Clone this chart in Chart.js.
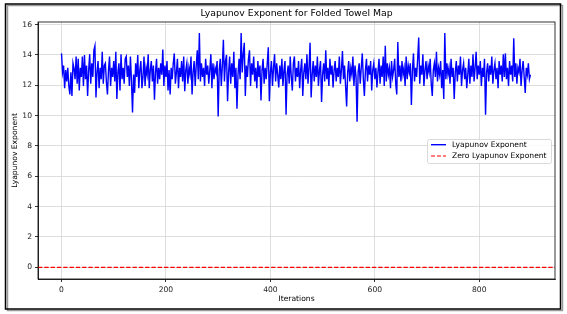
<!DOCTYPE html>
<html>
<head>
<meta charset="utf-8">
<script src="https://cdn.jsdelivr.net/npm/chart.js@4.4.0/dist/chart.umd.min.js"></script>
<style>
  html, body { margin: 0; padding: 0; background: #fff; }
  #wrap { width: 567px; height: 314px; position: relative; }
</style>
</head>
<body>
<div id="wrap"><canvas id="chart"></canvas></div>
<script>
const iterStep = 2;
const lyapunov = [
  14.1, 12.85, 13.3, 11.8, 13.0, 12.25, 13.15, 11.95, 11.4, 12.85, 11.3, 13.45, 13.1, 12.4, 13.9, 12.1, 13.75, 11.65, 13.15, 12.55, 13.9, 11.95, 14.0, 12.4, 13.3,
  11.3, 13.0, 14.05, 12.1, 13.45, 12.55, 14.3, 14.6, 11.2, 12.85, 13.6, 11.8, 13.15, 12.4, 14.2, 12.1, 13.3, 13.45, 12.2, 11.4, 13.0, 13.9, 11.95, 13.15, 12.55,
  13.6, 12.25, 14.2, 11.1, 12.85, 13.45, 11.65, 14.05, 12.4, 13.15, 12.1, 13.75, 13.9, 12.55, 13.3, 11.95, 13.9, 12.25, 10.2, 12.7, 11.5, 13.45, 12.55, 14.0, 11.8,
  13.0, 13.6, 11.8, 12.55, 13.9, 11.95, 13.15, 12.7, 14.05, 11.8, 13.0, 13.6, 12.25, 13.3, 11.05, 12.85, 13.75, 12.1, 13.15, 12.4, 13.45, 12.7, 14.35, 11.95, 13.3,
  12.55, 13.6, 11.65, 13.0, 11.4, 13.15, 12.4, 13.45, 14.1, 12.1, 12.85, 13.75, 11.8, 13.15, 12.55, 13.6, 12.25, 13.9, 11.6, 13.0, 13.45, 12.1, 13.15, 12.7, 13.9,
  11.4, 12.85, 13.6, 11.95, 13.3, 14.3, 12.4, 15.45, 12.25, 13.45, 12.55, 13.15, 11.95, 13.75, 12.7, 13.3, 12.1, 13.0, 14.05, 11.8, 13.45, 12.4, 13.15, 12.85, 13.6,
  9.95, 13.0, 13.75, 11.95, 13.3, 15.0, 12.25, 13.6, 14.0, 10.95, 12.85, 13.9, 12.1, 13.45, 12.55, 14.2, 11.8, 13.15, 10.45, 12.7, 13.75, 12.4, 15.45, 12.85, 14.05,
  14.8, 11.3, 13.3, 12.55, 13.75, 14.3, 11.95, 13.45, 12.7, 13.9, 12.25, 13.15, 11.8, 13.6, 12.55, 13.3, 11.0, 13.0, 13.75, 12.1, 13.15, 12.4, 13.45, 14.5, 10.95,
  12.85, 13.6, 11.95, 13.15, 14.05, 12.25, 13.45, 12.7, 11.85, 13.3, 12.4, 13.75, 11.95, 13.0, 13.6, 10.05, 12.7, 13.3, 12.1, 13.9, 12.55, 11.65, 13.45, 13.9, 12.25,
  13.15, 12.55, 13.6, 11.8, 13.0, 13.75, 11.3, 12.85, 13.45, 12.4, 14.05, 12.1, 13.15, 14.8, 11.2, 12.7, 13.6, 12.25, 13.3, 12.55, 13.9, 11.95, 13.0, 13.6, 10.9,
  12.7, 13.45, 12.25, 14.3, 12.4, 13.15, 11.95, 13.75, 12.7, 13.3, 11.85, 13.0, 13.6, 12.25, 13.15, 12.55, 13.9, 12.1, 13.0, 14.25, 12.4, 13.3, 11.95, 10.6, 12.85,
  13.6, 12.25, 13.15, 12.7, 13.9, 11.95, 13.3, 12.55, 9.6, 12.85, 13.45, 12.1, 13.15, 14.1, 12.4, 11.3, 13.0, 13.75, 12.25, 13.3, 12.7, 13.6, 11.65, 13.0, 13.45,
  12.4, 13.15, 11.85, 12.85, 13.75, 12.1, 13.3, 12.55, 13.9, 11.95, 14.6, 12.25, 13.45, 12.7, 13.15, 11.8, 13.6, 12.55, 13.0, 13.75, 12.1, 11.4, 14.85, 12.55, 13.3,
  12.25, 13.6, 12.7, 13.15, 11.95, 13.9, 12.4, 13.3, 12.85, 13.45, 10.7, 13.0, 14.1, 12.25, 13.15, 12.55, 13.75, 15.15, 12.1, 13.3, 12.7, 14.05, 11.95, 13.0, 13.6,
  12.4, 13.3, 12.85, 13.75, 12.1, 11.3, 13.0, 13.45, 12.55, 14.2, 12.25, 13.15, 12.7, 13.6, 11.8, 13.0, 11.1, 15.45, 12.4, 13.45, 12.7, 13.15, 12.1, 13.75, 12.55,
  13.15, 11.1, 12.85, 13.6, 12.25, 13.3, 12.7, 13.9, 11.95, 13.0, 13.45, 12.4, 13.15, 11.8, 12.7, 13.75, 12.1, 13.3, 12.55, 14.05, 12.25, 13.15, 14.2, 12.4, 13.3,
  12.7, 13.6, 11.95, 13.15, 12.55, 13.75, 10.05, 12.85, 13.45, 12.25, 13.3, 12.7, 13.9, 12.1, 13.0, 13.45, 12.4, 13.15, 11.8, 13.6, 12.7, 13.3, 12.25, 14.05, 12.55,
  14.1, 12.4, 13.15, 11.95, 13.6, 12.7, 13.3, 12.25, 15.1, 12.55, 13.45, 12.1, 13.15, 12.85, 13.75, 11.95, 13.0, 13.6, 12.55, 11.5, 13.15, 12.7, 13.45, 12.4, 12.7
];
const zeroLine = [0, 0];
const xRange = [-45, 945];
const yRange = [-0.77, 16.17];
const xTicks = [0, 200, 400, 600, 800];
const yTicks = [0, 2, 4, 6, 8, 10, 12, 14, 16];

const FONT = "'DejaVu Sans', sans-serif";

const frame = {
  id: "frame",
  beforeDraw(chart) {
    const ctx = chart.ctx;
    ctx.save();
    ctx.fillStyle = "#fff";
    ctx.fillRect(0, 0, chart.width, chart.height);
    ctx.restore();
  },
  afterDraw(chart) {
    const ctx = chart.ctx;
    const a = chart.chartArea;
    ctx.save();
    // axes box
    ctx.strokeStyle = "#000";
    ctx.lineWidth = 0.8;
    ctx.strokeRect(a.left, a.top, a.right - a.left, a.bottom - a.top);

    // outer figure border with a soft shadow
    ctx.strokeStyle = "#9a9a9a";
    ctx.lineWidth = 1.5;
    ctx.strokeRect(7.5, 5.5, 555, 305);
    ctx.strokeStyle = "#000";
    ctx.lineWidth = 1.5;
    ctx.strokeRect(5.5, 4, 555, 305);

    // titles
    ctx.fillStyle = "#000";
    ctx.textAlign = "center";
    ctx.textBaseline = "middle";
    ctx.font = "9.3px " + FONT;
    ctx.fillText("Lyapunov Exponent for Folded Towel Map", (a.left + a.right) / 2, 14);
    ctx.font = "7.6px " + FONT;
    ctx.fillText("Iterations", (a.left + a.right) / 2, 299.5);
    ctx.save();
    ctx.translate(15, (a.top + a.bottom) / 2);
    ctx.rotate(-Math.PI / 2);
    ctx.fillText("Lyapunov Exponent", 0, 0);
    ctx.restore();

    // legend
    const lx = 427, ly = 139, lw = 124, lh = 24;
    ctx.fillStyle = "rgba(255,255,255,0.85)";
    ctx.strokeStyle = "#d0d0d0";
    ctx.lineWidth = 0.8;
    ctx.beginPath();
    ctx.roundRect(lx + 0.5, ly + 0.5, lw, lh, 2);
    ctx.fill();
    ctx.stroke();
    ctx.lineWidth = 1.4;
    ctx.strokeStyle = "#0000ff";
    ctx.beginPath();
    ctx.moveTo(431, 144.7);
    ctx.lineTo(446, 144.7);
    ctx.stroke();
    ctx.strokeStyle = "#ff0000";
    ctx.lineWidth = 1.2;
    ctx.setLineDash([4, 2]);
    ctx.beginPath();
    ctx.moveTo(431, 156);
    ctx.lineTo(446, 156);
    ctx.stroke();
    ctx.setLineDash([]);
    ctx.fillStyle = "#000";
    ctx.textAlign = "left";
    ctx.font = "7.6px " + FONT;
    ctx.fillText("Lyapunov Exponent", 452, 145);
    ctx.fillText("Zero Lyapunov Exponent", 452, 156.5);
    ctx.restore();
  }
};

const axisTicks = (values) => (scale) => {
  scale.ticks = values.map((v) => ({ value: v }));
};

new Chart(document.getElementById("chart"), {
  type: "line",
  data: {
    datasets: [
      {
        label: "Lyapunov Exponent",
        data: lyapunov.map((v, i) => ({ x: i * iterStep, y: v })),
        borderColor: "#0000ff",
        borderWidth: 1.4,
        pointRadius: 0,
        tension: 0
      },
      {
        label: "Zero Lyapunov Exponent",
        data: xRange.map((x, i) => ({ x: x, y: zeroLine[i] })),
        borderColor: "#ff0000",
        borderWidth: 1.2,
        borderDash: [4.4, 1.9],
        pointRadius: 0
      }
    ]
  },
  options: {
    responsive: true,
    maintainAspectRatio: false,
    animation: false,
    devicePixelRatio: 1,
    layout: { padding: { top: 22, right: 12, bottom: 0, left: 0 } },
    plugins: {
      legend: { display: false },
      title: { display: false },
      tooltip: { enabled: false }
    },
    scales: {
      x: {
        type: "linear",
        min: xRange[0],
        max: xRange[1],
        afterBuildTicks: axisTicks(xTicks),
        afterFit(scale) { scale.height = 35; },
        ticks: {
          color: "#222",
          padding: 3,
          maxRotation: 0,
          autoSkip: false,
          font: { family: FONT, size: 7.6 },
          callback: (v) => String(Math.round(v))
        },
        grid: { color: "#d6d6d6", lineWidth: 0.8, tickColor: "#000", tickLength: 3 },
        border: { color: "#000", width: 0.8 }
      },
      y: {
        type: "linear",
        min: yRange[0],
        max: yRange[1],
        afterBuildTicks: axisTicks(yTicks),
        afterFit(scale) { scale.width = 38; },
        ticks: {
          color: "#222",
          padding: 3,
          autoSkip: false,
          font: { family: FONT, size: 7.6 },
          callback: (v) => String(Math.round(v))
        },
        grid: { color: "#d6d6d6", lineWidth: 0.8, tickColor: "#000", tickLength: 3 },
        border: { color: "#000", width: 0.8 }
      }
    }
  },
  plugins: [frame]
});
</script>
</body>
</html>
